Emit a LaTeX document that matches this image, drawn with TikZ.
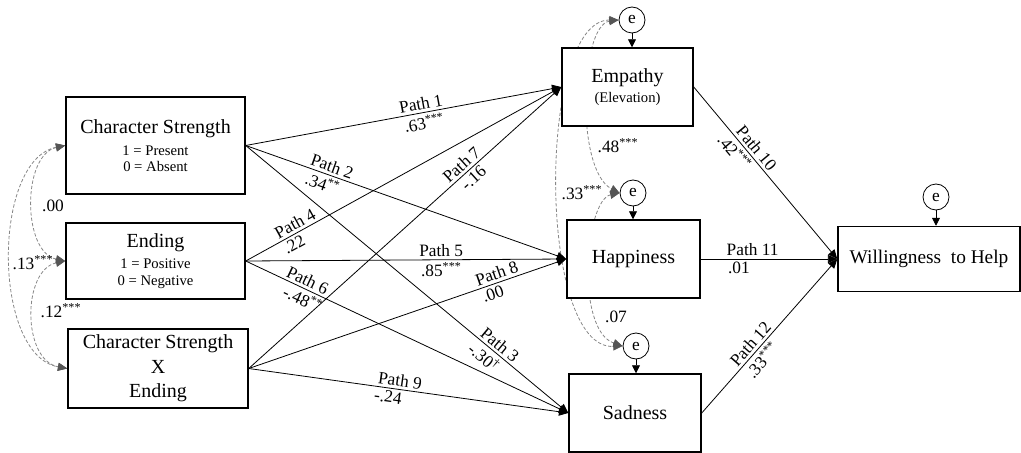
\documentclass[tikz,border=0pt]{standalone}
\usepackage{fontspec}
\setmainfont{Liberation Serif}
\usetikzlibrary{arrows.meta,backgrounds}
\begin{document}
\begin{tikzpicture}[x=0.75pt,y=-0.75pt,
  box/.style={draw, line width=1.1pt, fill=white, inner sep=0pt, align=center, font=\fontsize{15}{18}\selectfont},
  err/.style={circle, draw, line width=0.6pt, fill=white, minimum size=19.5pt, inner sep=0pt, font=\fontsize{13}{14}\selectfont},
  pth/.style={line width=0.6pt, -{Triangle[length=7pt,width=6pt]}},
  eparrow/.style={line width=0.6pt, -{Triangle[length=6pt,width=6pt]}},
  lab/.style={font=\fontsize{13}{14}\selectfont, sloped, inner sep=2pt},
  clab/.style={font=\fontsize{13}{14}\selectfont, inner sep=0pt},
  cov/.style={draw={rgb,255:red,135;green,135;blue,135}, line width=0.6pt, dash pattern=on 2.5pt off 1.5pt,
    {Triangle[length=7pt,width=6pt,color={rgb,255:red,85;green,85;blue,85}]}-{Triangle[length=7pt,width=6pt,color={rgb,255:red,85;green,85;blue,85}]}}
]
\useasboundingbox (0,0) rectangle (1021,453);

% boxes
\node[box, minimum width=134.25pt, minimum height=72.75pt] (CS) at (155.5,145.5)
  {Character Strength\\[-1.5pt]{\fontsize{11}{12}\selectfont 1 = Present}\\[-6pt]{\fontsize{11}{12}\selectfont 0 = Absent}};
\node[box, minimum width=134.25pt, minimum height=57pt] (End) at (155.5,261)
  {Ending\\[-2.3pt]{\fontsize{11}{12}\selectfont 1 = Positive}\\[-5.3pt]{\fontsize{11}{12}\selectfont 0 = Negative}};
\node[box, minimum width=135pt, minimum height=59.25pt, font=\fontsize{15}{18.4}\selectfont] (CSE) at (158,368.5)
  {Character Strength\\X\\Ending};
\node[box, minimum width=98.25pt, minimum height=58.5pt] (Emp) at (627.5,87)
  {Empathy\\[-2.5pt]{\fontsize{11}{12}\selectfont (Elevation)}};
\node[box, minimum width=99.75pt, minimum height=58.5pt] (Hap) at (633.5,259) {Happiness};
\node[box, minimum width=99pt, minimum height=58.5pt] (Sad) at (635,413) {Sadness};
\node[box, minimum width=136.5pt, minimum height=48.75pt, font=\fontsize{14.5}{17}\selectfont] (Will) at (929,259) {Willingness\ \ to Help};

% error terms
\node[err] (eE) at (632,20) {e};
\node[err] (eH) at (633,193) {e};
\node[err] (eS) at (636,346) {e};
\node[err] (eW) at (936,197) {e};
\draw[eparrow] (eE) -- (eE |- Emp.north);
\draw[eparrow] (eH) -- (eH |- Hap.north);
\draw[eparrow] (eS) -- (eS |- Sad.north);
\draw[eparrow] (eW) -- (eW |- Will.north);

% covariances
\begin{scope}[on background layer]
\draw[cov] (CS.west) .. controls (22,155) and (22,252) .. (End.west);
\draw[cov] (End.west) .. controls (22,270) and (22,360) .. (CSE.west);
\draw[cov] (CS.west) .. controls (-8,160) and (-8,355) .. (CSE.west);
\draw[cov] (eE.west) .. controls (580,25) and (575,170) .. (eH.west);
\draw[cov] (eE.west) .. controls (537,20) and (537,350) .. (eS.west);
\draw[cov] (eH.west) .. controls (585,200) and (575,330) .. (eS.west);
\end{scope}
\node[clab] (c00) at (53,206) {.00};
\node[clab] (c13) at (33,263) {.13\textsuperscript{***}};
\node[clab] (c12) at (61,311) {.12\textsuperscript{***}};
\node[clab] (c48) at (618,146) {.48\textsuperscript{***}};
\node[clab] (c33) at (582,193) {.33\textsuperscript{***}};
\node[clab] (c07) at (616,317) {.07};

% paths
\draw[pth] (CS.east) -- node[lab, above, pos=0.56] {Path 1} node[lab, below, pos=0.56] {.63\textsuperscript{***}} (Emp.west);
\draw[pth] (CS.east) -- node[lab, above, pos=0.26] {Path 2} node[lab, below, pos=0.25] {.34\textsuperscript{**}} (Hap.west);
\draw[pth] (CS.east) -- node[lab, above, pos=0.77] {Path 3} node[lab, below, pos=0.76] {-.30\textsuperscript{\textdagger}} (Sad.west);
\draw[pth] (End.east) -- node[lab, above, pos=0.17] {Path 4} node[lab, below, pos=0.14] {.22} (Emp.west);
\draw[pth] (End.east) -- node[lab, above, pos=0.61] {Path 5} node[lab, below, pos=0.61] {.85\textsuperscript{***}} (Hap.west);
\draw[pth] (End.east) -- node[lab, above, pos=0.18] {Path 6} node[lab, below, pos=0.19] {-.48\textsuperscript{**}} (Sad.west);
\draw[pth] (CSE.east) -- node[lab, above, pos=0.70] {Path 7} node[lab, below, pos=0.70] {-.16} (Emp.west);
\draw[pth] (CSE.east) -- node[lab, above, pos=0.79] {Path 8} node[lab, below, pos=0.76] {.00} (Hap.west);
\draw[pth] (CSE.east) -- node[lab, above, pos=0.47] {Path 9} node[lab, below, pos=0.44] {-.24} (Sad.west);
\draw[pth] (Emp.east) -- node[lab, above, pos=0.39] {Path 10} node[lab, below, pos=0.34] {.42\textsuperscript{***}} (Will.west);
\draw[pth] (Hap.east) -- node[lab, above, pos=0.38] {Path 11} node[lab, below, pos=0.28] {.01} (Will.west);
\draw[pth] (Sad.east) -- node[lab, above, pos=0.41] {Path 12} node[lab, below, pos=0.39] {.33\textsuperscript{***}} (Will.west);
\end{tikzpicture}
\end{document}
